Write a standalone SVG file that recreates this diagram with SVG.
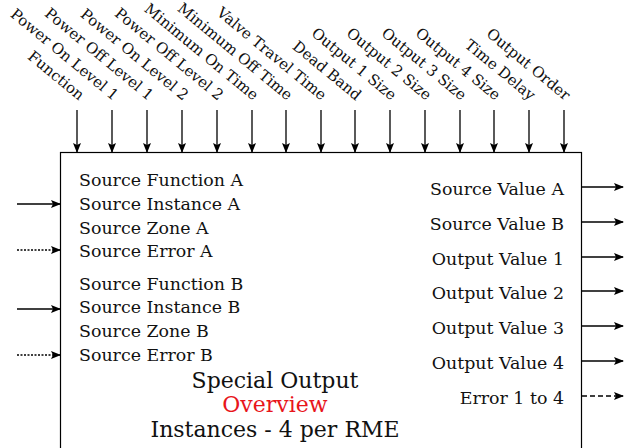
<svg xmlns="http://www.w3.org/2000/svg" width="628" height="448" viewBox="0 0 628 448">
<style>
text{font-family:"DejaVu Serif","Liberation Serif",serif;fill:#111}
.lbl{font-size:17.4px}
.top{font-size:15px;text-anchor:end}
.r{text-anchor:end}
.c{text-anchor:middle;font-size:22px}
.ln{stroke:#000;stroke-width:1.3;fill:none}
.dot{stroke-dasharray:2 1.5}
.dash{stroke-dasharray:5 3}
</style>
<defs>
<marker id="ah" markerWidth="10" markerHeight="8" refX="9" refY="4" orient="auto" markerUnits="userSpaceOnUse">
<path d="M0,0 L10,4 L0,8 L2,4 Z" fill="#000"/>
</marker>
</defs>
<g id="box">
<rect x="60.5" y="152.5" width="521" height="300" fill="#fff" stroke="#000" stroke-width="1.2"/>
<text x="79" y="186" class="lbl">Source Function A</text>
<text x="79" y="210" class="lbl">Source Instance A</text>
<text x="79" y="234" class="lbl">Source Zone A</text>
<text x="79" y="257" class="lbl">Source Error A</text>
<text x="79" y="290" class="lbl">Source Function B</text>
<text x="79" y="313" class="lbl">Source Instance B</text>
<text x="79" y="337" class="lbl">Source Zone B</text>
<text x="79" y="361" class="lbl">Source Error B</text>
<text x="564" y="195" class="lbl r">Source Value A</text>
<text x="564" y="230" class="lbl r">Source Value B</text>
<text x="564" y="265" class="lbl r">Output Value 1</text>
<text x="564" y="299" class="lbl r">Output Value 2</text>
<text x="564" y="334" class="lbl r">Output Value 3</text>
<text x="564" y="369" class="lbl r">Output Value 4</text>
<text x="564" y="404" class="lbl r">Error 1 to 4</text>
<text x="275" y="388" class="c">Special Output</text>
<text x="275" y="412" class="c" style="fill:#e8151b">Overview</text>
<text x="275" y="437" class="c">Instances - 4 per RME</text>
</g>
<g id="top-labels">
<text class="top" transform="translate(79,101) rotate(39.5)">Function</text>
<text class="top" transform="translate(113,101) rotate(39.5)">Power On Level 1</text>
<text class="top" transform="translate(148,101) rotate(39.5)">Power Off Level 1</text>
<text class="top" transform="translate(183,101) rotate(39.5)">Power On Level 2</text>
<text class="top" transform="translate(218,101) rotate(39.5)">Power Off Level 2</text>
<text class="top" transform="translate(253,101) rotate(39.5)">Minimum On Time</text>
<text class="top" transform="translate(287,101) rotate(39.5)">Minimum Off Time</text>
<text class="top" transform="translate(321,101) rotate(39.5)">Valve Travel Time</text>
<text class="top" transform="translate(356,101) rotate(39.5)">Dead Band</text>
<text class="top" transform="translate(391,101) rotate(39.5)">Output 1 Size</text>
<text class="top" transform="translate(426,101) rotate(39.5)">Output 2 Size</text>
<text class="top" transform="translate(461,101) rotate(39.5)">Output 3 Size</text>
<text class="top" transform="translate(495,101) rotate(39.5)">Output 4 Size</text>
<text class="top" transform="translate(530,101) rotate(39.5)">Time Delay</text>
<text class="top" transform="translate(565,101) rotate(39.5)">Output Order</text>
</g>
<g id="connectors">
<path class="ln" marker-end="url(#ah)" d="M77,110V152"/>
<path class="ln" marker-end="url(#ah)" d="M112,110V152"/>
<path class="ln" marker-end="url(#ah)" d="M147,110V152"/>
<path class="ln" marker-end="url(#ah)" d="M182,110V152"/>
<path class="ln" marker-end="url(#ah)" d="M217,110V152"/>
<path class="ln" marker-end="url(#ah)" d="M252,110V152"/>
<path class="ln" marker-end="url(#ah)" d="M286,110V152"/>
<path class="ln" marker-end="url(#ah)" d="M321,110V152"/>
<path class="ln" marker-end="url(#ah)" d="M355,110V152"/>
<path class="ln" marker-end="url(#ah)" d="M390,110V152"/>
<path class="ln" marker-end="url(#ah)" d="M425,110V152"/>
<path class="ln" marker-end="url(#ah)" d="M460,110V152"/>
<path class="ln" marker-end="url(#ah)" d="M494,110V152"/>
<path class="ln" marker-end="url(#ah)" d="M529,110V152"/>
<path class="ln" marker-end="url(#ah)" d="M564,110V152"/>
<path class="ln" marker-end="url(#ah)" d="M17,204H60"/>
<path class="ln dot" marker-end="url(#ah)" d="M17,250H60"/>
<path class="ln" marker-end="url(#ah)" d="M17,309H60"/>
<path class="ln dot" marker-end="url(#ah)" d="M17,355H60"/>
<path class="ln" marker-end="url(#ah)" d="M582,187H623"/>
<path class="ln" marker-end="url(#ah)" d="M582,222H623"/>
<path class="ln" marker-end="url(#ah)" d="M582,257H623"/>
<path class="ln" marker-end="url(#ah)" d="M582,291H623"/>
<path class="ln" marker-end="url(#ah)" d="M582,326H623"/>
<path class="ln" marker-end="url(#ah)" d="M582,361H623"/>
<path class="ln dash" marker-end="url(#ah)" d="M582,396H623"/>
</g>
</svg>
